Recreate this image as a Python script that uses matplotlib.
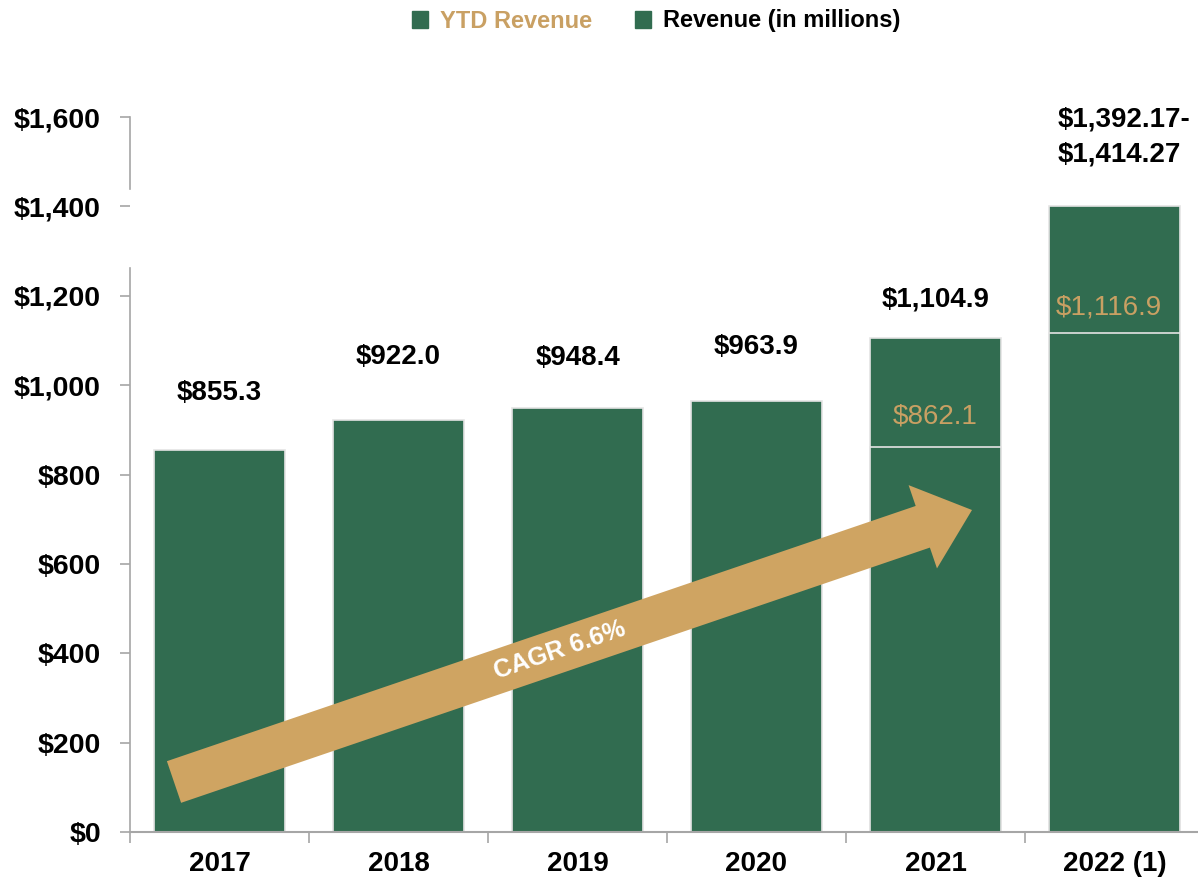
import numpy as np
import matplotlib
matplotlib.use("Agg")
import matplotlib.pyplot as plt
from matplotlib.patches import Patch, Polygon

plt.rcParams["font.family"] = ["Liberation Sans", "DejaVu Sans"]

years = ["2017", "2018", "2019", "2020", "2021", "2022 (1)"]
revenue = [855.3, 922.0, 948.4, 963.9, 1104.9, 1400.0]
revenue_labels = ["$855.3", "$922.0", "$948.4", "$963.9", "$1,104.9", "$1,392.17-\n$1,414.27"]
ytd_idx = [4, 5]
ytd_revenue = [862.1, 1116.9]
ytd_labels = ["$862.1", "$1,116.9"]
yticks = [0, 200, 400, 600, 800, 1000, 1200, 1400, 1600]
cagr_text = "CAGR 6.6%"

GREEN = "#316c50"
GOLD = "#cfa462"
GOLD_TEXT = "#c9a063"
GRID = "#a6a6a6"

W, H = 1198, 890
fig = plt.figure(figsize=(W / 100, H / 100), dpi=100)
ax = fig.add_axes([130 / W, 58 / H, 1074 / W, 715 / H])

x = np.arange(len(years))
ax.bar(x, revenue, width=0.73, color=GREEN, edgecolor="#e4e4e4", linewidth=1.2, zorder=2)
ax.bar(ytd_idx, ytd_revenue, width=0.73, color=GREEN, edgecolor="#e4e4e4", linewidth=1.2, zorder=2)

ax.set_xlim(-0.5, 5.5)
ax.set_ylim(0, 1600)
ax.set_yticks(yticks)
ax.set_yticklabels([f"${v:,.0f}" for v in yticks], fontsize=20.5, fontweight="bold")
ax.set_xticks(x)
ax.set_xticklabels(years, fontsize=20, fontweight="bold")
ax.set_xticks(np.arange(-0.5, 5.6, 1), minor=True)
ax.tick_params(axis="x", which="major", length=0, pad=14)
ax.tick_params(axis="x", which="minor", length=8, width=1.2, color=GRID, direction="out")
ax.tick_params(axis="y", length=7, width=1.2, color=GRID, pad=14)

for side in ["top", "right", "left"]:
    ax.spines[side].set_visible(False)
ax.spines["bottom"].set_color(GRID)
ax.spines["bottom"].set_linewidth(1.5)
# left axis line, broken where the original chart had a gap
ax.plot([-0.5, -0.5], [0, 1262], color=GRID, lw=1.2, clip_on=False, zorder=1)
ax.plot([-0.5, -0.5], [1440, 1600], color=GRID, lw=1.2, clip_on=False, zorder=1)

# revenue labels above the bars (offsets in points)
label_offsets = [41, 45, 36, 39, 28, 50]
for i, (v, lab) in enumerate(zip(revenue, revenue_labels)):
    ax.annotate(lab, xy=(i, v), xytext=(7 if i == 5 else 0, label_offsets[i]),
                textcoords="offset points", ha="center", va="center",
                multialignment="left", fontsize=20, fontweight="bold",
                linespacing=1.45, color="black", zorder=5)

ytd_offsets = [22, 18]
ytd_dx = [0, -4]
for i, v, lab, off, dx in zip(ytd_idx, ytd_revenue, ytd_labels, ytd_offsets, ytd_dx):
    ax.annotate(lab, xy=(i, v), xytext=(dx, off), textcoords="offset points",
                ha="center", va="center", fontsize=20, color=GOLD_TEXT, zorder=5)

# CAGR arrow, built in pixel space
tail = np.array([174.0, 782.0])
tip = np.array([972.0, 510.0])
shaft_hw, head_hw, head_len = 22.0, 44.0, 52.0
u = (tip - tail) / np.linalg.norm(tip - tail)
n = np.array([-u[1], u[0]])
base = tip - u * head_len
pts = np.array([
    tail + n * shaft_hw,
    base + n * shaft_hw,
    base + n * head_hw,
    tip,
    base - n * head_hw,
    base - n * shaft_hw,
    tail - n * shaft_hw,
])
pts_fig = np.column_stack([pts[:, 0] / W, 1 - pts[:, 1] / H])
arrow = Polygon(pts_fig, closed=True, facecolor=GOLD, edgecolor="none",
                transform=fig.transFigure, clip_on=False, zorder=3)
ax.add_patch(arrow)
angle = np.degrees(np.arctan2(-(tip[1] - tail[1]), tip[0] - tail[0]))
fig.text(560 / W, 1 - 650 / H, cagr_text, rotation=angle, rotation_mode="anchor",
         ha="center", va="center", fontsize=18, fontweight="bold", color="white", zorder=6)

handles = [Patch(facecolor=GREEN, edgecolor=GREEN), Patch(facecolor=GREEN, edgecolor=GREEN)]
leg = fig.legend(handles, ["YTD Revenue", "Revenue (in millions)"], loc="center",
                 bbox_to_anchor=(656 / W, 1 - 21 / H), ncol=2, frameon=False,
                 prop={"size": 17, "weight": "bold"}, handlelength=0.7, handleheight=0.7,
                 handletextpad=0.5, columnspacing=1.8,
                 labelcolor=[GOLD_TEXT, "black"])

fig.savefig("out.png", dpi=100)
